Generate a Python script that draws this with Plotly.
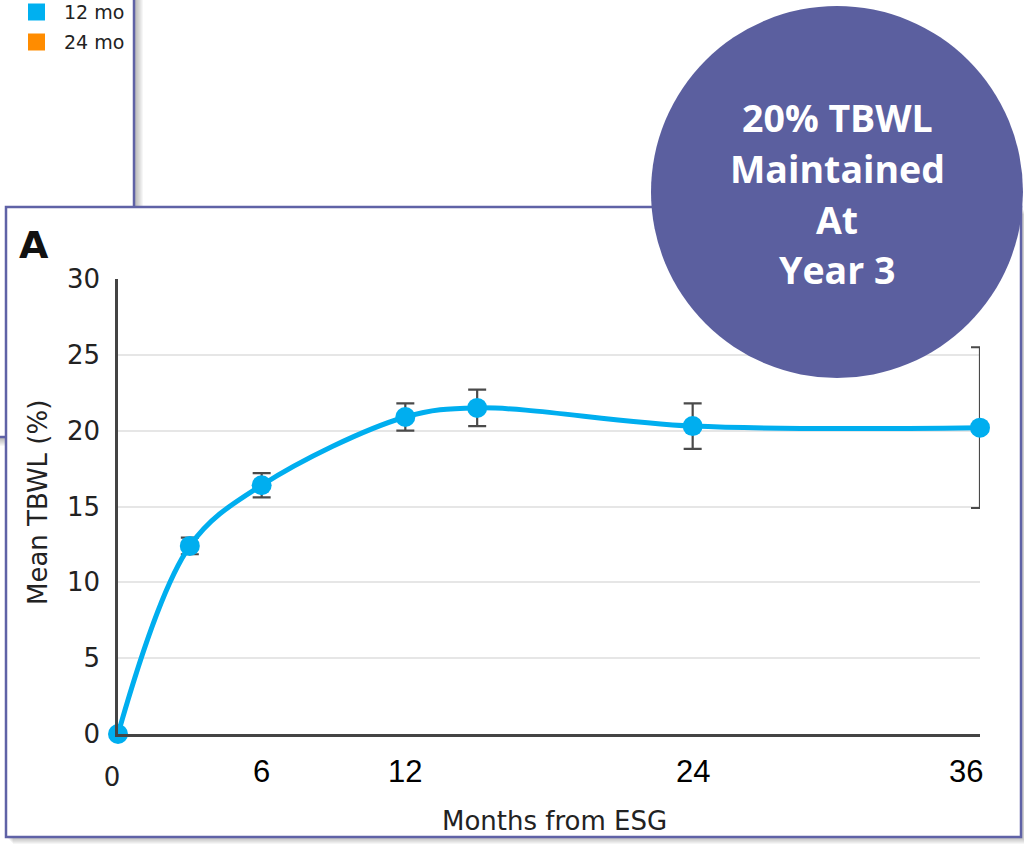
import plotly.graph_objects as go

# ---- data ----
months = [0, 3, 6, 12, 15, 24, 36]
mean_tbwl = [0.0, 12.4, 16.4, 20.9, 21.5, 20.3, 20.2]
err_tbwl = [0.0, 0.55, 0.8, 0.9, 1.2, 1.5, 5.3]
y_ticks = [0, 5, 10, 15, 20, 25, 30]
x_extra_ticks = [6, 12, 24, 36]
legend_labels = ["12 mo", "24 mo"]
legend_colors = ["#00b0f0", "#ff8c00"]
circle_lines = ["20% TBWL", "Maintained", "At", "Year 3"]

W, H = 1024, 844
def fx(p):
    return p / W
def fy(p):
    return 1 - p / H

PURPLE = "#5f62a6"
LINE_BLUE = "#00aeef"
TXT = "#222222"

fig = go.Figure()
fig.add_trace(go.Scatter(
    x=months, y=mean_tbwl, mode="lines+markers",
    line=dict(shape="spline", color=LINE_BLUE, width=5),
    marker=dict(size=20, color=LINE_BLUE),
    error_y=dict(type="data", array=err_tbwl, color="#4a4a4a", thickness=2.2, width=9),
    cliponaxis=False, hoverinfo="x+y",
))

shapes = []
# background panel (behind) shadow + panel
for k in range(1, 10):
    shapes.append(dict(type="rect", xref="paper", yref="paper",
                       x0=fx(-20 + k), x1=fx(134 + k), y0=fy(437 + k), y1=fy(-20 + k),
                       line=dict(width=0), fillcolor="rgba(0,0,0,0.035)", layer="below"))
shapes.append(dict(type="rect", xref="paper", yref="paper",
                   x0=fx(-20), x1=fx(134), y0=fy(437), y1=fy(-20),
                   line=dict(width=2.5, color=PURPLE), fillcolor="white", layer="below"))
# legend of background panel
legend_y = [12, 42]
for c, yc in zip(legend_colors, legend_y):
    shapes.append(dict(type="rect", xref="paper", yref="paper",
                       x0=fx(28), x1=fx(45), y0=fy(yc + 8.5), y1=fy(yc - 8.5),
                       line=dict(width=0), fillcolor=c, layer="below"))
# main panel shadow + panel
for k in range(1, 8):
    shapes.append(dict(type="rect", xref="paper", yref="paper",
                       x0=fx(6 + k), x1=fx(1021 + k), y0=fy(837 + k), y1=fy(207 + k),
                       line=dict(width=0), fillcolor="rgba(0,0,0,0.04)", layer="below"))
shapes.append(dict(type="rect", xref="paper", yref="paper",
                   x0=fx(6), x1=fx(1021), y0=fy(837), y1=fy(207),
                   line=dict(width=2.5, color=PURPLE), fillcolor="white", layer="below"))
# purple circle
shapes.append(dict(type="circle", xref="paper", yref="paper",
                   x0=fx(837 - 186), x1=fx(837 + 186), y0=fy(192 + 186), y1=fy(192 - 186),
                   line=dict(width=0), fillcolor="#5b5f9f", layer="above"))

annotations = []
for lab, yc in zip(legend_labels, legend_y):
    annotations.append(dict(text=lab, xref="paper", yref="paper", x=fx(62), y=fy(yc),
                            xanchor="left", yanchor="middle", showarrow=False,
                            font=dict(family="DejaVu Sans", size=19, color=TXT)))
# panel letter
annotations.append(dict(text="<b>A</b>", xref="paper", yref="paper", x=fx(34), y=fy(245),
                        xanchor="center", yanchor="middle", showarrow=False,
                        font=dict(family="DejaVu Sans", size=38, color="#111111")))
# axis titles
annotations.append(dict(text="Mean TBWL (%)", xref="paper", yref="paper", x=fx(38), y=fy(503),
                        xanchor="center", yanchor="middle", textangle=-90, showarrow=False,
                        font=dict(family="DejaVu Sans", size=26, color=TXT)))
annotations.append(dict(text="Months from ESG", xref="paper", yref="paper", x=fx(554), y=fy(821),
                        xanchor="center", yanchor="middle", showarrow=False,
                        font=dict(family="DejaVu Sans", size=26, color=TXT)))
# extra x tick labels (different font, overlaid)
for i, t in enumerate(x_extra_ticks):
    last = i == len(x_extra_ticks) - 1
    annotations.append(dict(text=str(t), xref="x", yref="paper", x=t, y=fy(771),
                            xanchor="right" if last else "center", xshift=5 if last else 0,
                            yanchor="middle", showarrow=False,
                            font=dict(family="Liberation Sans", size=31, color="#000000")))
# circle text
for i, line in enumerate(circle_lines):
    annotations.append(dict(text=line, xref="paper", yref="paper", x=fx(837), y=fy(117 + 51 * i),
                            xanchor="center", yanchor="middle", showarrow=False,
                            font=dict(family="Open Sans", size=37.5, color="white", weight="bold")))

fig.update_layout(
    width=W, height=H, margin=dict(l=0, r=0, t=0, b=0, autoexpand=False),
    paper_bgcolor="white", plot_bgcolor="rgba(0,0,0,0)",
    showlegend=False, shapes=shapes, annotations=annotations,
    xaxis=dict(domain=[fx(118), fx(980)], range=[0, 36], showgrid=False, zeroline=False,
               showline=True, linecolor="#444444", linewidth=2.5, automargin=False,
               tickvals=[0], ticktext=["0"], ticks="",
               tickfont=dict(family="DejaVu Sans", size=26, color=TXT),
               ticklabelstandoff=18, ticklabelshift=-6),
    yaxis=dict(domain=[fy(734), fy(279)], range=[0, 30], tickvals=y_ticks, ticks="",
               showgrid=True, gridcolor="#e6e6e6", gridwidth=1.5, zeroline=False,
               showline=True, linecolor="#444444", linewidth=2.5, automargin=False,
               tickfont=dict(family="DejaVu Sans", size=26, color=TXT),
               ticklabelstandoff=10),
)

fig.write_html("out.html", config={"displayModeBar": False},
               post_script="document.body.style.margin='0';document.body.style.overflow='hidden';")
